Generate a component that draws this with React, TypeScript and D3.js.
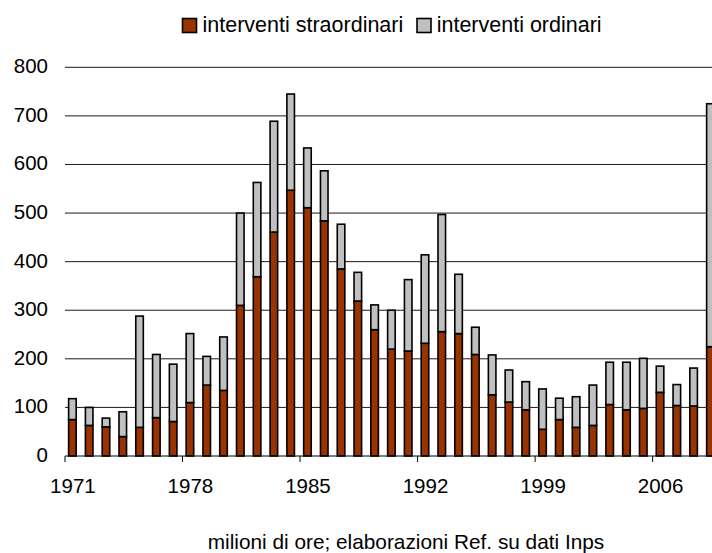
import React from "react";
import * as d3 from "d3";

const years: number[] = [
  1971, 1972, 1973, 1974, 1975, 1976, 1977, 1978, 1979, 1980,
  1981, 1982, 1983, 1984, 1985, 1986, 1987, 1988, 1989, 1990,
  1991, 1992, 1993, 1994, 1995, 1996, 1997, 1998, 1999, 2000,
  2001, 2002, 2003, 2004, 2005, 2006, 2007, 2008, 2009,
];

// interventi straordinari (milioni di ore)
const straordinari: number[] = [
  75, 63, 60, 40, 59, 79, 71, 110, 146, 135,
  310, 369, 461, 547, 511, 484, 385, 319, 260, 220,
  216, 232, 256, 252, 209, 126, 111, 95, 55, 75,
  59, 63, 106, 95, 98, 131, 104, 103, 225,
];

// interventi ordinari (milioni di ore)
const ordinari: number[] = [
  43, 37, 18, 51, 229, 130, 118, 142, 59, 110,
  190, 194, 228, 198, 123, 103, 92, 59, 51, 80,
  147, 182, 241, 122, 56, 82, 66, 58, 83, 44,
  63, 83, 87, 98, 103, 54, 43, 78, 500,
];

const yTicks: number[] = [0, 100, 200, 300, 400, 500, 600, 700, 800];
const xTickLabels: number[] = [1971, 1978, 1985, 1992, 1999, 2006];

const seriesNames = ["interventi straordinari", "interventi ordinari"];
const seriesColors = ["#993300", "#C0C0C0"];
const caption = "milioni di ore; elaborazioni Ref. su dati Inps";

const W = 712;
const H = 553;
const FONT = "'Liberation Sans', Arial, Helvetica, sans-serif";

export default function App() {
  const left = 65;
  const step = 16.79;
  const right = left + step * years.length;
  const x = d3
    .scaleBand<number>()
    .domain(years)
    .range([left, right])
    .paddingInner(0.55)
    .paddingOuter(0.275);
  const y = d3.scaleLinear().domain([0, 800]).range([456, 67.3]);

  const rows = years.map((yr, i) => ({
    year: yr,
    straordinari: straordinari[i],
    ordinari: ordinari[i],
  }));
  const stack = d3.stack<any>().keys(["straordinari", "ordinari"]);
  const stacked = stack(rows);

  const catCenter = (yr: number) => (x(yr) as number) + x.bandwidth() / 2;
  const boundary = (yr: number) => (x(yr) as number) - (x.step() - x.bandwidth()) / 2;

  return (
    <svg
      width={W}
      height={H}
      style={{ position: "absolute", left: 0, top: 0, background: "#fff" }}
      fontFamily={FONT}
    >
      <rect x={0} y={0} width={W} height={H} fill="#fff" />
      {yTicks
        .filter((t) => t > 0)
        .map((t) => (
          <line
            key={"g" + t}
            x1={left}
            x2={W}
            y1={y(t)}
            y2={y(t)}
            stroke="#1a1a1a"
            strokeWidth={1}
          />
        ))}
      {yTicks.map((t) => (
        <text
          key={"yl" + t}
          x={48}
          y={y(t) + 6}
          textAnchor="end"
          fontSize={20.5}
          fill="#000"
        >
          {t}
        </text>
      ))}
      {stacked.map((s, si) =>
        s.map((d, i) => (
          <rect
            key={"b" + si + "-" + i}
            x={(x(years[i]) as number) - 1}
            width={x.bandwidth()}
            y={y(d[1])}
            height={y(d[0]) - y(d[1])}
            fill={seriesColors[si]}
            stroke="#000"
            strokeWidth={1.6}
          />
        ))
      )}
      <line x1={left} x2={W} y1={y(0)} y2={y(0)} stroke="#000" strokeWidth={1} />
      {xTickLabels.map((yr) => (
        <g key={"xt" + yr}>
          <line
            x1={boundary(yr)}
            x2={boundary(yr)}
            y1={y(0)}
            y2={y(0) + 6}
            stroke="#000"
            strokeWidth={1}
          />
          <text
            x={catCenter(yr) - 0.5}
            y={493}
            textAnchor="middle"
            fontSize={20.5}
            fill="#000"
          >
            {yr}
          </text>
        </g>
      ))}
      <rect x={182.5} y={18.5} width={14} height={14} fill={seriesColors[0]} stroke="#000" strokeWidth={1.6} />
      <text x={202.5} y={32.3} fontSize={21.5} fill="#000">
        {seriesNames[0]}
      </text>
      <rect x={417} y={18.5} width={14} height={14} fill={seriesColors[1]} stroke="#000" strokeWidth={1.6} />
      <text x={436.7} y={32.3} fontSize={21.5} fill="#000">
        {seriesNames[1]}
      </text>
      <text x={406} y={549} textAnchor="middle" fontSize={20.8} fill="#000">
        {caption}
      </text>
    </svg>
  );
}
